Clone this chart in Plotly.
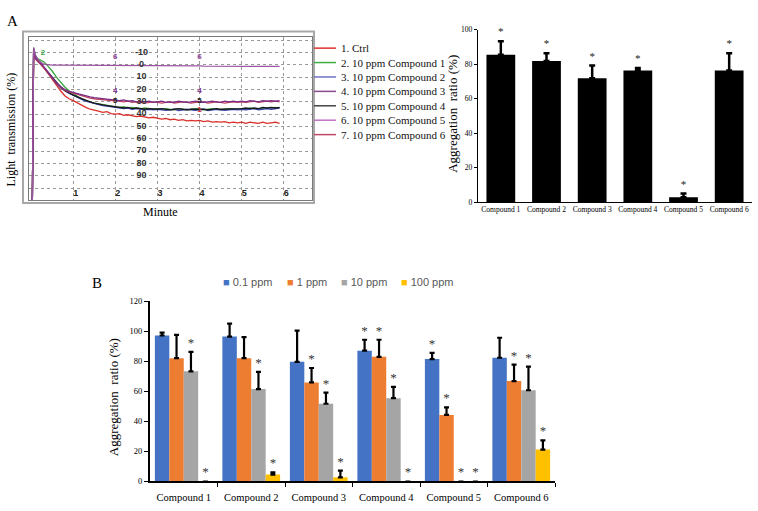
import plotly.graph_objects as go

W, H = 758, 511


def fx(p):
    return p / W


def fy(p):
    return 1 - p / H


# ---------------- Panel A (left): light-transmission traces ----------------
trace_time = [0.0, 0.03, 0.06, 0.1, 0.15, 0.2, 0.3, 0.4, 0.5, 0.6, 0.7, 0.8, 0.9,
              1.0, 1.1, 1.2, 1.3, 1.4, 1.5, 1.6, 1.7, 1.8, 1.9,
              2.0, 2.1, 2.2, 2.3, 2.4, 2.5, 2.6, 2.7, 2.8, 2.9,
              3.0, 3.1, 3.2, 3.3, 3.4, 3.5, 3.6, 3.7, 3.8, 3.9,
              4.0, 4.1, 4.2, 4.3, 4.4, 4.5, 4.6, 4.7, 4.8, 4.9,
              5.0, 5.1, 5.2, 5.3, 5.4, 5.5, 5.6, 5.7, 5.8, 5.9]

trace_ctrl = [110, 110, -12, -6, -4, -2.5, 2, 7, 12, 17, 21, 25, 27.5,
              29, 31, 33, 34.5, 36, 36.5, 37.5, 38.5, 38, 39.5,
              40, 39.5, 41, 40.5, 41.5, 42, 41.5, 42.5, 43, 42.5,
              43.5, 44, 43.5, 44.5, 44, 45, 44.5, 45.5, 45, 45.5,
              45, 46, 45.5, 46.5, 46, 46.5, 46, 47, 46.5, 47,
              46.5, 47.5, 46.5, 47, 47.5, 46.5, 47.5, 47, 46.5, 47.5]
trace_c1 = [110, 110, -14, -8, -5, -4, -2.5, 1, 5, 10, 14, 18, 21,
            23.5, 25.5, 27.5, 29, 30, 31, 31.5, 32.5, 33, 33.5,
            34, 34.5, 34, 35, 34.5, 35, 35.5, 35, 35.5, 36,
            35.5, 36, 35.5, 36, 36.5, 35.5, 36, 36.5, 36, 35.5,
            36, 36.5, 36, 35.5, 36, 36.5, 36, 35.5, 36, 35.5,
            35.5, 36, 35, 35.5, 36, 35, 35.5, 35, 34.5, 35]
trace_c2 = [110, 110, -11, -5, -3, -1.5, 2, 6.5, 11, 15, 18.5, 21, 23,
            24.5, 26.5, 28, 29.5, 30.5, 31.5, 32, 33, 33.5, 34,
            34.5, 35, 35.5, 35, 36, 35.5, 36, 36.5, 36, 36.5,
            36, 36.5, 37, 36.5, 36, 37, 36.5, 36, 36.5, 37,
            36.5, 36, 37, 36.5, 36, 36.5, 37, 36.5, 36, 36.5,
            36, 36.5, 36, 35.5, 36.5, 36, 35.5, 36, 35.5, 35]
trace_c3 = [110, 110, -13, -6, -4, -2.5, 1.5, 6, 10.5, 14.5, 17.5, 20, 21.5,
            22.5, 23.5, 24.5, 25.5, 26, 26.5, 27, 27.5, 28, 28,
            28.5, 29, 28.5, 29.5, 29, 30, 29.5, 30, 29.5, 30.5,
            30, 29.5, 30.5, 30, 30.5, 29.5, 30, 30.5, 30, 29.5,
            30, 30.5, 30, 29.5, 30, 30.5, 29.5, 30, 29.5, 30,
            29.5, 30, 29, 29.5, 30, 29, 29.5, 29, 29.5, 29]
trace_c4 = [110, 110, -12, -6, -4, -2, 2, 6, 10.5, 14.5, 18, 21, 23,
            24.5, 26, 27.5, 29, 30, 31, 32, 32.5, 33, 33.5,
            34, 34.5, 35, 34.5, 35.5, 35, 35.5, 36, 35.5, 36,
            36, 35.5, 36, 36.5, 36, 35.5, 36, 36.5, 36, 36,
            35.5, 36, 36.5, 36, 35.5, 36, 36, 35.5, 36, 35.5,
            35.5, 35, 35.5, 35, 35.5, 34.5, 35, 34.5, 35, 34.5]
trace_c5 = [110, 110, -14, -8, -5, -3, -0.5, 0, 0.3, 0.3, 0.3, 0.3, 0.4,
            0.4, 0.4, 0.4, 0.4, 0.5, 0.5, 0.5, 0.5, 0.5, 0.5,
            0.6, 0.6, 0.6, 0.6, 0.6, 0.6, 0.7, 0.7, 0.7, 0.7,
            0.7, 0.8, 0.8, 0.8, 0.8, 0.8, 0.9, 0.9, 0.9, 0.9,
            0.9, 1.0, 1.0, 1.0, 1.0, 1.0, 1.1, 1.1, 1.1, 1.1,
            1.1, 1.2, 1.2, 1.2, 1.2, 1.2, 1.3, 1.3, 1.3, 1.3]
trace_c6 = [110, 110, -10, -5, -3, -1.5, 2.5, 7, 11.5, 15, 18, 20.5, 22,
            23, 24.5, 25.5, 26.5, 27, 27.5, 28, 28.5, 28.5, 29,
            29, 29.5, 30, 29.5, 30.5, 30, 30.5, 31, 30.5, 30,
            30.5, 31, 30.5, 30, 31, 30.5, 30, 30.5, 31, 30.5,
            30.5, 30, 31, 30.5, 30, 30.5, 31, 30.5, 30, 30.5,
            30, 30.5, 30, 29.5, 30.5, 30, 29.5, 30, 29.5, 30]

trace_series = [trace_ctrl, trace_c1, trace_c2, trace_c3, trace_c4, trace_c5, trace_c6]
trace_names = ["1. Ctrl", "2. 10 ppm Compound 1", "3. 10 ppm Compound 2",
               "4. 10 ppm Compound 3", "5. 10 ppm Compound 4",
               "6. 10 ppm Compound 5", "7. 10 ppm Compound 6"]
trace_line_colors = ["#d9302c", "#37a63e", "#3b3fb0", "#7a2c86", "#1a1a1a", "#9b55a3", "#c0405a"]
legend_line_colors = ["#e0302a", "#3cb043", "#7070c8", "#8a4a92", "#444444", "#c070c8", "#c04a66"]
draw_order = [0, 1, 2, 4, 6, 3, 5]

# curve number labels drawn on the recorder trace
curve_label_text = ["6", "6", "4", "5", "4", "5", "1", "2"]
curve_label_x = [2.0, 4.0, 2.0, 2.0, 4.0, 4.0, 4.0, 0.28]
curve_label_y = [-6, -6, 21, 29, 21, 29, 37, -10]
curve_label_col = ["#8a3d95", "#8a3d95", "#7a2c86", "#222222", "#7a2c86", "#222222", "#d9302c", "#37a63e"]

y_scale_labels = [-10, 0, 10, 20, 30, 40, 50, 60, 70, 80, 90]
minute_labels = [1, 2, 3, 4, 5, 6]

# ---------------- Panel A (right): aggregation ratio at 10 ppm ----------------
a_categories = ["Compound 1", "Compound 2", "Compound 3", "Compound 4", "Compound 5", "Compound 6"]
a_values = [85.4, 81.8, 71.8, 76.3, 2.8, 76.3]
a_errors = [7.8, 4.4, 7.4, 1.4, 2.1, 9.9]
a_signif = [True, True, True, True, True, True]

# ---------------- Panel B: dose response ----------------
b_categories = ["Compound 1", "Compound 2", "Compound 3", "Compound 4", "Compound 5", "Compound 6"]
b_series = ["0.1 ppm", "1 ppm", "10 ppm", "100 ppm"]
b_colors = ["#4472C4", "#ED7D31", "#A5A5A5", "#FFC000"]
b_values = [
    [97.1, 96.4, 79.6, 87.0, 81.4, 82.3],
    [82.0, 82.0, 65.9, 82.9, 44.3, 66.8],
    [73.3, 61.5, 51.7, 55.4, 0.0, 60.7],
    [0.0, 4.6, 2.8, 0.0, 0.0, 21.2],
]
b_errors = [
    [1.9, 8.6, 20.8, 7.3, 4.1, 13.3],
    [15.5, 14.0, 9.6, 11.4, 5.0, 10.9],
    [12.9, 11.4, 7.4, 7.6, 0.0, 15.7],
    [0.0, 1.5, 4.4, 0.0, 0.0, 6.1],
]
b_signif = [
    [False, False, False, True, True, False],
    [False, False, True, True, True, True],
    [True, True, True, True, True, True],
    [True, True, True, True, True, True],
]

serif = "Liberation Serif, Times New Roman, serif"
sans = "Liberation Sans, Arial, sans-serif"

fig = go.Figure()

# ---- Panel A left traces
for k in draw_order:
    fig.add_trace(go.Scatter(
        x=trace_time, y=trace_series[k], mode="lines", name=trace_names[k],
        line=dict(color=trace_line_colors[k], width=1.3),
        xaxis="x", yaxis="y", showlegend=False, hoverinfo="skip"))

fig.add_trace(go.Scatter(
    x=[2.62] * len(y_scale_labels), y=y_scale_labels, mode="text",
    text=[f"<b>{v}</b>" for v in y_scale_labels],
    textfont=dict(family=sans, size=9, color="#333333"),
    textposition="middle center", xaxis="x", yaxis="y", showlegend=False,
    hoverinfo="skip", cliponaxis=False))
fig.add_trace(go.Scatter(
    x=minute_labels, y=[104.5] * len(minute_labels), mode="text",
    text=[f"<b>{v}</b>" for v in minute_labels],
    textfont=dict(family=sans, size=9, color="#222222"),
    textposition="middle right", xaxis="x", yaxis="y", showlegend=False,
    hoverinfo="skip", cliponaxis=False))
fig.add_trace(go.Scatter(
    x=curve_label_x, y=curve_label_y, mode="text",
    text=[f"<b>{t}</b>" for t in curve_label_text],
    textfont=dict(family=sans, size=8, color=curve_label_col),
    textposition="middle center", xaxis="x", yaxis="y", showlegend=False,
    hoverinfo="skip"))

# ---- Panel A right bars
a_x = list(range(len(a_categories)))
fig.add_trace(go.Bar(
    x=a_x, y=a_values, width=0.63, marker=dict(color="black", line=dict(width=0)),
    error_y=dict(type="data", symmetric=False, array=a_errors,
                 arrayminus=[0] * len(a_errors), color="black", thickness=2.5, width=3),
    xaxis="x2", yaxis="y2", showlegend=False))
fig.add_trace(go.Scatter(
    x=[x for x, s in zip(a_x, a_signif) if s],
    y=[v + e + 5.0 for v, e, s in zip(a_values, a_errors, a_signif) if s],
    mode="text", text=["*"] * sum(a_signif),
    textfont=dict(family=serif, size=11, color="#222222"),
    xaxis="x2", yaxis="y2", showlegend=False, cliponaxis=False, hoverinfo="skip"))

# ---- Panel B grouped bars
group_frac = 0.855
bw = group_frac / len(b_series)
for j, name in enumerate(b_series):
    xs = [i + (j - (len(b_series) - 1) / 2) * bw for i in range(len(b_categories))]
    fig.add_trace(go.Bar(
        x=xs, y=b_values[j], width=bw, name=name,
        marker=dict(color=b_colors[j], line=dict(width=0)),
        error_y=dict(type="data", symmetric=False, array=b_errors[j],
                     arrayminus=[0] * len(b_errors[j]), color="black", thickness=2.2, width=2.5),
        xaxis="x3", yaxis="y3", showlegend=False))
    sx = [x for x, s in zip(xs, b_signif[j]) if s]
    sy = [v + e + 5.5 for v, e, s in zip(b_values[j], b_errors[j], b_signif[j]) if s]
    fig.add_trace(go.Scatter(
        x=sx, y=sy, mode="text", text=["*"] * len(sx),
        textfont=dict(family=serif, size=13, color="#333333"),
        xaxis="x3", yaxis="y3", showlegend=False, cliponaxis=False, hoverinfo="skip"))

layout_shapes = [
    dict(type="rect", xref="paper", yref="paper", x0=fx(23), x1=fx(314), y0=fy(202), y1=fy(27),
         line=dict(color="#a8a8a8", width=2), layer="above"),
]
layout_annotations = []
row_y0, row_dy = 44, 14.7
for i, (name, col) in enumerate(zip(trace_names, legend_line_colors)):
    yy = row_y0 + row_dy * i
    layout_shapes.append(dict(type="line", xref="paper", yref="paper", x0=fx(314), x1=fx(336),
                              y0=fy(yy), y1=fy(yy), line=dict(color=col, width=1.5)))
    layout_annotations.append(dict(text=name, x=fx(339), y=fy(yy), xref="paper", yref="paper",
                                   xanchor="left", yanchor="middle", showarrow=False,
                                   font=dict(family=serif, size=11, color="#111111")))

# legend of panel B
legend_x = [221, 285, 339, 399]
for name, col, lx in zip(b_series, b_colors, legend_x):
    layout_annotations.append(dict(
        text=f"<span style='color:{col}'>■</span> {name}", x=fx(lx), y=fy(283),
        xref="paper", yref="paper", xanchor="left", yanchor="middle", showarrow=False,
        font=dict(family=sans, size=11, color="#595959")))


def label(text, x, y, size, angle=0):
    return dict(text=text, x=fx(x), y=fy(y), xref="paper", yref="paper", showarrow=False,
                xanchor="center", yanchor="middle", textangle=angle,
                font=dict(family=serif, size=size, color="black"))


layout_annotations += [
    label("A", 12, 16, 15),
    label("B", 97, 284, 15),
    label("Light  transmission (%)", 11, 127, 12, -90),
    label("Minute", 160, 211, 12),
    label("Aggregation  ratio (%)", 453, 111, 13, -90),
    label("Aggregation  ratio (%)", 113, 400, 13, -90),
]

fig.update_layout(
    width=W, height=H, margin=dict(l=0, r=0, t=0, b=0),
    paper_bgcolor="white", plot_bgcolor="white",
    font=dict(family=serif, color="black"),
    barmode="overlay",
    shapes=layout_shapes, annotations=layout_annotations,
    xaxis=dict(domain=[fx(29), fx(312)], range=[-0.05, 6.67], tickvals=minute_labels,
               showticklabels=False, ticks="", showgrid=True, gridcolor="#9a9a9a",
               griddash="dot", gridwidth=1, zeroline=False, showline=True,
               linecolor="#7a7a7a", linewidth=1, mirror=True, fixedrange=True),
    yaxis=dict(domain=[fy(199), fy(33)], range=[109.7, -22.3],
               tickvals=[-20, -10, 0, 10, 20, 30, 40, 50, 60, 70, 80, 90, 100],
               showticklabels=False, ticks="", showgrid=True, gridcolor="#9a9a9a",
               griddash="dot", gridwidth=1, zeroline=False, showline=True,
               linecolor="#7a7a7a", linewidth=1, mirror=True, fixedrange=True),
    xaxis2=dict(domain=[fx(478), fx(752)], range=[-0.5, 5.5], tickvals=a_x,
                ticktext=a_categories, tickfont=dict(family=serif, size=7.5, color="black"),
                ticks="", showgrid=False, zeroline=False, showline=True,
                linecolor="black", linewidth=1.3, anchor="y2"),
    yaxis2=dict(domain=[fy(201), fy(25)], range=[0, 100], tickvals=[0, 20, 40, 60, 80, 100],
                tickfont=dict(family=serif, size=7.5, color="black"), ticks="outside", ticklen=3,
                tickcolor="black", showgrid=False, zeroline=False, showline=True,
                linecolor="black", linewidth=1.3, anchor="x2"),
    xaxis3=dict(domain=[fx(150), fx(555)], range=[-0.5, 5.5],
                tickvals=list(range(len(b_categories))), ticktext=b_categories,
                tickfont=dict(family=serif, size=10.5, color="black"), ticks="",
                ticklabelstandoff=5, showgrid=False,
                zeroline=False, showline=True, linecolor="black", linewidth=1.5,
                minor=dict(tickvals=[0.5, 1.5, 2.5, 3.5, 4.5, 5.5], ticks="outside",
                           ticklen=4, tickcolor="black", showgrid=False),
                anchor="y3"),
    yaxis3=dict(domain=[fy(486), fy(302)], range=[0, 120],
                tickvals=[0, 20, 40, 60, 80, 100, 120],
                tickfont=dict(family=serif, size=8.5, color="black"),
                ticks="outside", ticklen=4, tickcolor="black", showgrid=False,
                zeroline=False, showline=True, linecolor="black", linewidth=2, anchor="x3"),
)

fig.write_html("out.html",
               config={"displayModeBar": False, "staticPlot": True},
               post_script="document.body.style.margin='0';document.body.style.overflow='hidden';")
